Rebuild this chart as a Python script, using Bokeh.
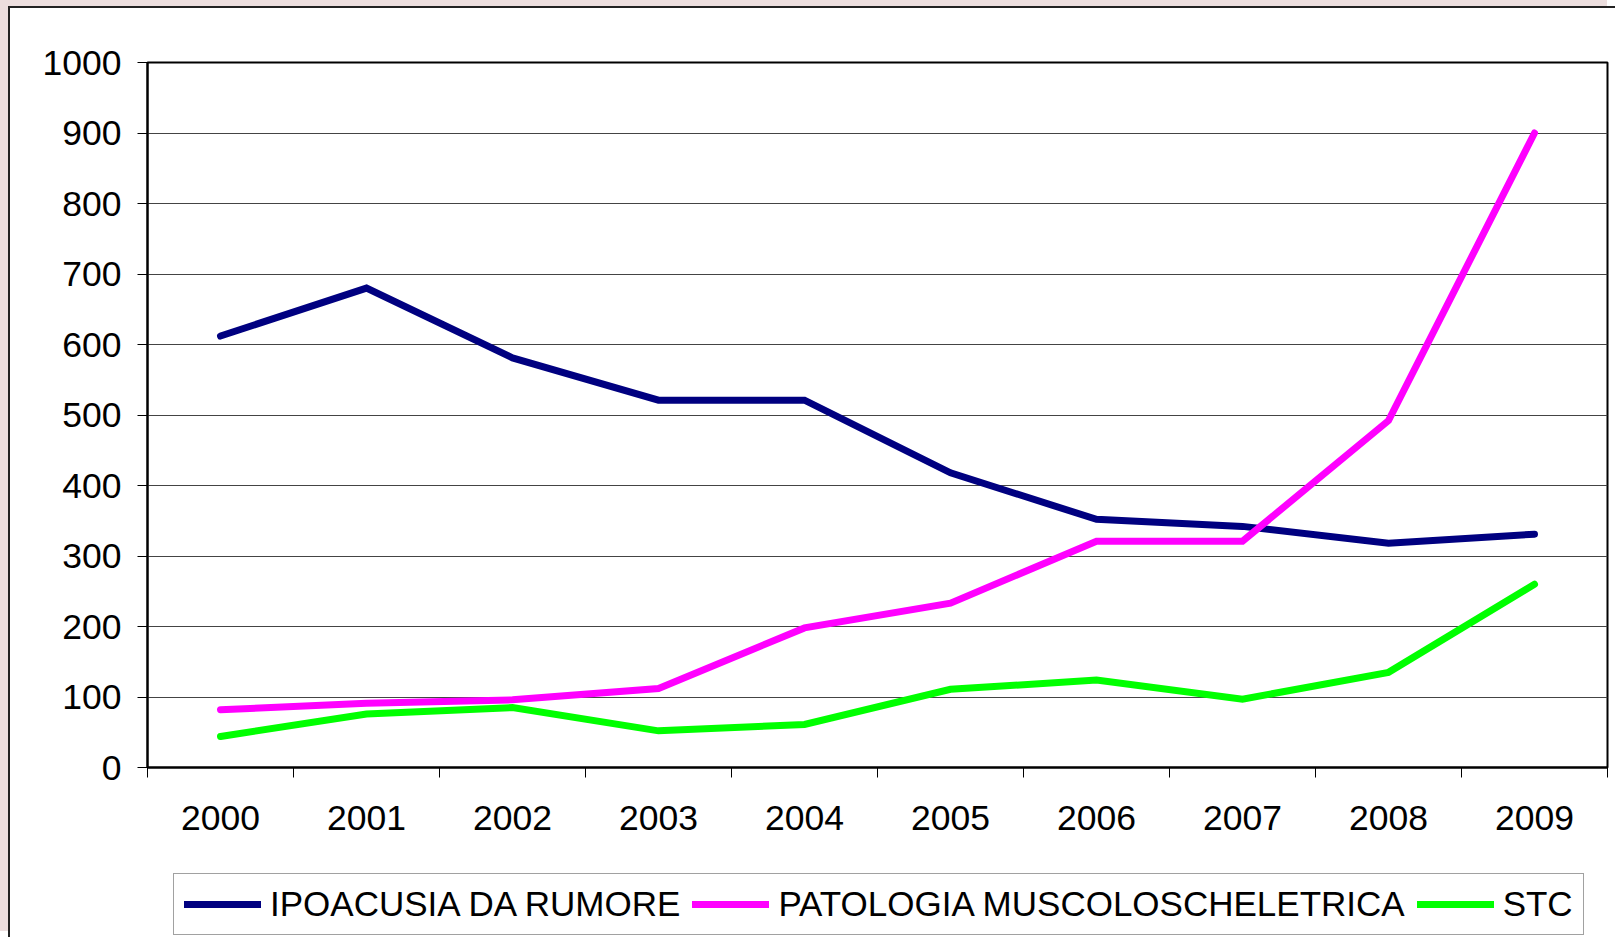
from bokeh.plotting import figure
from bokeh.models import FixedTicker, Legend, LegendItem, ColumnDataSource, Range1d
from bokeh.layouts import column
from bokeh.embed import file_html
from bokeh.resources import INLINE

years = ["2000", "2001", "2002", "2003", "2004", "2005", "2006", "2007", "2008", "2009"]
ipoacusia = [612, 680, 581, 521, 521, 418, 352, 342, 318, 331]
patologia = [82, 91, 96, 112, 198, 233, 321, 321, 492, 900]
stc = [44, 76, 85, 52, 61, 111, 124, 97, 135, 260]
names = ["IPOACUSIA DA RUMORE", "PATOLOGIA MUSCOLOSCHELETRICA", "STC"]
colors = ["#000080", "#FF00FF", "#00FF00"]
y_ticks = [0, 100, 200, 300, 400, 500, 600, 700, 800, 900, 1000]

FONT = "Liberation Sans"
LW = 7
TICK_FS = "35.5px"
LEG_FS = "35px"

xs = [i + 0.5 for i in range(len(years))]
src = ColumnDataSource(dict(x=xs, a=ipoacusia, b=patologia, c=stc))

fig = figure(width=1607, height=850, output_backend="svg", toolbar_location=None,
             x_range=(0, len(years)), y_range=(0, 1000),
             min_border_left=137, min_border_top=54, min_border_right=10, min_border_bottom=91)
fig.background_fill_color = "white"
fig.border_fill_color = "white"
fig.outline_line_color = "black"
fig.outline_line_width = 2

for col, c in zip(["a", "b", "c"], colors):
    fig.line("x", col, source=src, line_color=c, line_width=LW, line_cap="round", line_join="miter")

# x axis: labels at category centres, ticks at category boundaries (minor ticks)
fig.xaxis.ticker = FixedTicker(ticks=xs, minor_ticks=list(range(len(years) + 1)))
fig.xaxis.major_label_overrides = {x: y for x, y in zip(xs, years)}
fig.xaxis.major_tick_out = 0
fig.xaxis.major_tick_in = 0
fig.xaxis.major_tick_line_color = None
fig.xaxis.minor_tick_out = 10
fig.xaxis.minor_tick_in = 0
fig.xaxis.minor_tick_line_color = "black"
fig.xaxis.minor_tick_line_width = 1
fig.xaxis.axis_line_color = "black"
fig.xaxis.axis_line_width = 2
fig.xaxis.major_label_standoff = 28
fig.xaxis.major_label_text_font = FONT
fig.xaxis.major_label_text_font_size = TICK_FS
fig.xaxis.major_label_text_color = "black"

fig.yaxis.ticker = FixedTicker(ticks=y_ticks)
fig.yaxis.major_tick_out = 10
fig.yaxis.major_tick_in = 0
fig.yaxis.major_tick_line_color = "black"
fig.yaxis.minor_tick_line_color = None
fig.yaxis.axis_line_color = "black"
fig.yaxis.axis_line_width = 2
fig.yaxis.major_label_standoff = 16
fig.yaxis.major_label_text_font = FONT
fig.yaxis.major_label_text_font_size = TICK_FS
fig.yaxis.major_label_text_color = "black"

fig.xgrid.grid_line_color = None
fig.ygrid.ticker = FixedTicker(ticks=y_ticks)
fig.ygrid.grid_line_color = "#444444"
fig.ygrid.grid_line_width = 1

# legend strip below the chart (its frame is aligned with the chart's frame)
leg = figure(width=1607, height=81, output_backend="svg", toolbar_location=None,
             x_range=Range1d(0, 1), y_range=Range1d(0, 1),
             x_axis_location=None, y_axis_location=None,
             min_border_left=0, min_border_right=0, min_border_top=0, min_border_bottom=0)
leg.outline_line_color = None
leg.xgrid.grid_line_color = None
leg.ygrid.grid_line_color = None
leg.border_fill_color = "white"
leg.background_fill_color = "white"
# proxy renderers kept outside the visible range; they only supply legend glyphs
proxy = ColumnDataSource(dict(x=[5, 6], y=[5, 6]))
items = []
for n, c in zip(names, colors):
    r = leg.line("x", "y", source=proxy, line_color=c, line_width=LW, line_cap="round")
    items.append(LegendItem(label=n, renderers=[r]))

legend = Legend(items=items, orientation="horizontal", location=(26, 4))
legend.label_text_font = FONT
legend.label_text_font_size = LEG_FS
legend.label_text_color = "black"
legend.glyph_width = 77
legend.glyph_height = 30
legend.label_standoff = 9
legend.spacing = 12
legend.padding = 10
legend.margin = 0
legend.border_line_color = "#444444"
legend.border_line_width = 1.5
legend.background_fill_color = "white"
leg.add_layout(legend, "center")

p = column(fig, leg, spacing=0, margin=(8, 0, 0, 10),
           styles={"box-shadow": "-2px -2px 0 0 #222222, -10px -8px 0 0 #ecdede"})

open("out.html", "w").write(file_html(p, INLINE))
